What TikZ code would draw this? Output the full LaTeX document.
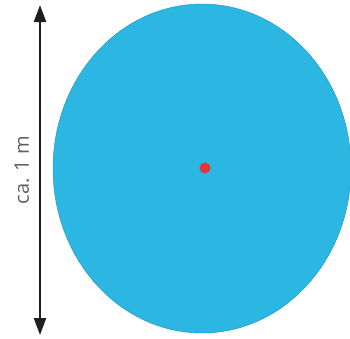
\documentclass[tikz,border=0pt]{standalone}
\usepackage{fontspec}
\setmainfont{Open Sans}
\usetikzlibrary{arrows.meta}
\definecolor{poolblue}{RGB}{43,183,226}
\definecolor{dotred}{RGB}{232,52,56}
\definecolor{labelgray}{RGB}{95,95,95}
\definecolor{arrowblack}{RGB}{30,30,30}

\begin{document}
\begin{tikzpicture}[x=1pt, y=-1pt,
  masspfeil/.style={arrowblack, line width=2.2pt,
    {Triangle[length=17pt, width=12pt]}-{Triangle[length=17pt, width=12pt]}}]
  \useasboundingbox (0,0) rectangle (350,338);

  % Becken
  \fill[poolblue, draw=poolblue!80!black, line width=0.4pt]
    (202,168.5) ellipse [x radius=149, y radius=164.5];
  \node[circle, fill=dotred, inner sep=0pt, minimum size=11pt] (mitte) at (205,168) {};

  % Massangabe
  \coordinate (oben) at (40,5);
  \coordinate (unten) at (40,335);
  \draw[masspfeil] (oben) -- (unten);
  \node[rotate=90, text=labelgray, font=\fontsize{20}{24}\selectfont] (mass) at (22,170) {ca. 1 m};
\end{tikzpicture}
\end{document}
